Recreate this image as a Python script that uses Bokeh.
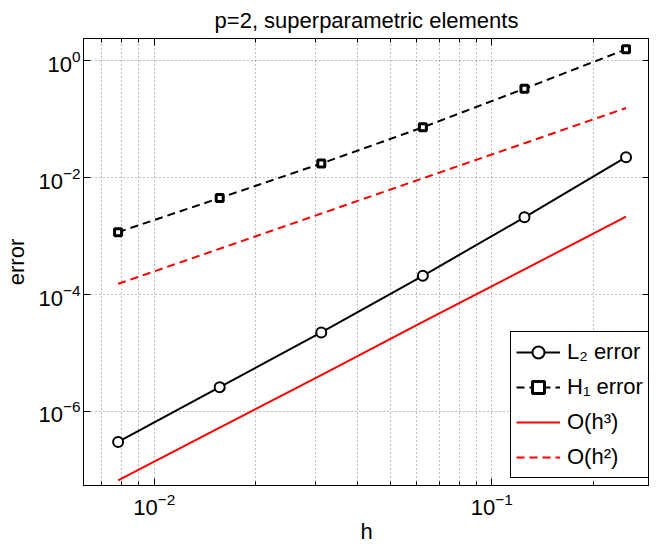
from bokeh.plotting import figure
from bokeh.models import (LogAxis, FixedTicker, Legend, LegendItem, Range1d)
from bokeh.embed import file_html
from bokeh.resources import INLINE

# ---- data ----
h = [0.0078125, 0.015625, 0.03125, 0.0625, 0.125, 0.25]
l2_err = [3.0e-7, 2.6e-6, 2.25e-5, 2.1e-4, 2.1e-3, 2.25e-2]
h1_err = [1.17e-3, 4.5e-3, 1.75e-2, 7.3e-2, 0.335, 1.58]
o_h3 = [6.6e-8, 5.3e-7, 4.2e-6, 3.4e-5, 2.7e-4, 2.17e-3]
o_h2 = [1.53e-4, 6.1e-4, 2.44e-3, 9.8e-3, 3.9e-2, 0.156]

x_major = [1e-2, 1e-1]
x_minor = [0.007, 0.008, 0.009, 0.02, 0.03, 0.04, 0.05, 0.06, 0.07, 0.08, 0.09, 0.2]
y_major = [1e-6, 1e-4, 1e-2, 1e0]

title_text = "p=2, superparametric elements"
x_label = "h"
y_label = "error"
labels = ["L\u2082 error", "H\u2081 error", "O(h\u00b3)", "O(h\u00b2)"]

FONT = "Liberation Sans"
FS = "22px"

p = figure(x_axis_type="log", y_axis_type="log",
           x_range=Range1d(0.00617, 0.2934), y_range=Range1d(5.4e-8, 2.42),
           frame_width=566, frame_height=447,
           min_border_left=83, min_border_top=38, min_border_bottom=50, min_border_right=0,
           output_backend="svg", toolbar_location=None,
           background_fill_color="white", border_fill_color="white")

p.title.text = title_text
p.title.text_font = FONT
p.title.text_font_size = FS
p.title.text_font_style = "normal"
p.title.text_color = "black"
p.title.align = "center"
p.title.standoff = 11
p.title.offset = 0

p.outline_line_color = "black"
p.outline_line_width = 1
p.outline_line_alpha = 1

xt = FixedTicker(ticks=x_major, minor_ticks=x_minor)
yt = FixedTicker(ticks=y_major, minor_ticks=[])

for ax in p.xaxis:
    ax.ticker = xt
for ax in p.yaxis:
    ax.ticker = yt

def style_axis(ax, show_labels=True):
    ax.axis_line_color = "black"
    ax.major_tick_line_color = "black"
    ax.minor_tick_line_color = "black"
    ax.major_tick_in = 7
    ax.major_tick_out = 0
    ax.minor_tick_in = 4
    ax.minor_tick_out = 0
    ax.major_label_text_font = FONT
    ax.major_label_text_color = "black"
    ax.axis_label_text_font = FONT
    ax.axis_label_text_font_size = FS
    ax.axis_label_text_font_style = "normal"
    ax.axis_label_text_color = "black"
    if show_labels:
        ax.major_label_text_font_size = FS
    else:
        ax.major_label_text_font_size = "1px"
        ax.major_label_text_alpha = 0
        ax.major_label_standoff = 0

style_axis(p.xaxis[0])
style_axis(p.yaxis[0])
p.xaxis[0].axis_label = x_label
p.yaxis[0].axis_label = y_label
p.xaxis[0].major_label_standoff = 7
p.xaxis[0].axis_label_standoff = 1
p.yaxis[0].major_label_standoff = 3
p.yaxis[0].axis_label_standoff = 6

top = LogAxis(ticker=xt)
style_axis(top, show_labels=False)
right = LogAxis(ticker=yt)
style_axis(right, show_labels=False)
p.add_layout(top, "above")
p.add_layout(right, "right")

for g in (p.xgrid[0], p.ygrid[0]):
    g.grid_line_color = "black"
    g.grid_line_alpha = 0.5
    g.grid_line_dash = "1 3"
    g.grid_line_width = 1
p.xgrid[0].minor_grid_line_color = "black"
p.xgrid[0].minor_grid_line_alpha = 0.5
p.xgrid[0].minor_grid_line_dash = "1 3"
p.xgrid[0].minor_grid_line_width = 1

r_o3 = p.line(h, o_h3, line_color="#ff0000", line_width=2)
r_o2 = p.line(h, o_h2, line_color="#ff0000", line_width=2, line_dash="8 5")
r_l2l = p.line(h, l2_err, line_color="black", line_width=2)
r_l2m = p.scatter(h, l2_err, marker="circle", size=10, line_color="black",
                  line_width=2, fill_color="white")
r_h1l = p.line(h, h1_err, line_color="black", line_width=2, line_dash="8 5")
r_h1m = p.scatter(h, h1_err, marker="square", size=7, line_color="black",
                  line_width=3, fill_color="white")

legend = Legend(items=[
    LegendItem(label=labels[0], renderers=[r_l2l, r_l2m]),
    LegendItem(label=labels[1], renderers=[r_h1l, r_h1m]),
    LegendItem(label=labels[2], renderers=[r_o3]),
    LegendItem(label=labels[3], renderers=[r_o2]),
], location=(427, 7))
legend.label_text_font = FONT
legend.label_text_font_size = FS
legend.label_text_color = "black"
legend.border_line_color = "black"
legend.border_line_width = 1
legend.border_line_alpha = 1
legend.background_fill_color = "white"
legend.background_fill_alpha = 1
legend.glyph_width = 44
legend.glyph_height = 30
legend.label_height = 30
legend.label_standoff = 7
legend.spacing = 5
legend.padding = 5
legend.margin = 0
p.add_layout(legend, "center")

open("out.html", "w").write(file_html(p, INLINE))
